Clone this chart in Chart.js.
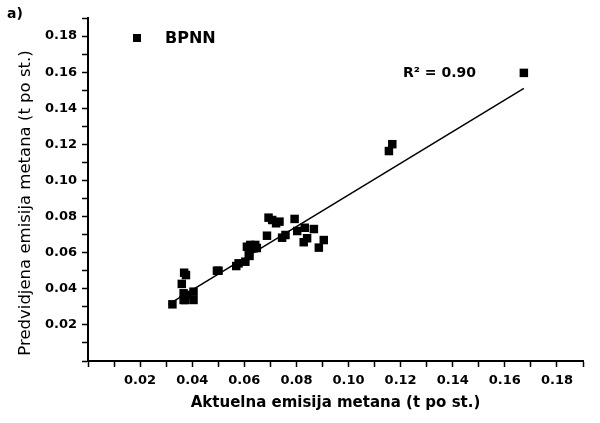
<!DOCTYPE html>
<html>
<head>
<meta charset="utf-8">
<script src="https://cdn.jsdelivr.net/npm/chart.js@4.4.1/dist/chart.umd.min.js"></script>
<style>
  body { margin: 0; background: #fff; }
</style>
</head>
<body>
<canvas id="bpnn" width="600" height="423"></canvas>
<script>
// stvarne vs predvidjene vrijednosti (t po st.)
const actual = [0.0324, 0.0369, 0.0376, 0.0360, 0.0367, 0.0380, 0.0373, 0.0405, 0.0405, 0.0367,
  0.0495, 0.0501, 0.0569, 0.0578, 0.0604, 0.0620, 0.0617, 0.0610, 0.0623, 0.0642,
  0.0636, 0.0648, 0.0687, 0.0693, 0.0707, 0.0722, 0.0735, 0.0793, 0.0745, 0.0758,
  0.0803, 0.0832, 0.0867, 0.0841, 0.0828, 0.0905, 0.0886, 0.1168, 0.1155, 0.1673];
const predicted = [0.0314, 0.0489, 0.0476, 0.0427, 0.0375, 0.0366, 0.0338, 0.0384, 0.0338, 0.0338,
  0.0500, 0.0500, 0.0526, 0.0541, 0.0550, 0.0582, 0.0600, 0.0633, 0.0643, 0.0643,
  0.0624, 0.0626, 0.0694, 0.0794, 0.0781, 0.0763, 0.0772, 0.0787, 0.0683, 0.0698,
  0.0720, 0.0738, 0.0731, 0.0680, 0.0658, 0.0670, 0.0628, 0.1201, 0.1163, 0.1596];
const fitLine = [0.877, 0.0043];   // nagib, odsjecak
const r2Label = 'R² = 0.90';
const seriesName = 'BPNN';
const yTitle = 'Predvidjena emisija metana (t po st.)';

const points = actual.map((x, i) => ({ x: x, y: predicted[i] }));
const xMin = Math.min(...actual) - 0.0015;
const xMax = Math.max(...actual);
const fit = [xMin, xMax].map(x => ({ x: x, y: fitLine[0] * x + fitLine[1] }));

const tickFont = { family: 'DejaVu Sans', weight: 'bold', size: 13 };
function everyOther(value) {
  const k = Math.round(value * 100);
  return (k > 0 && k % 2 === 0) ? (k / 100).toFixed(2) : '';
}

const extras = {
  id: 'extras',
  afterDraw(chart) {
    const ctx = chart.ctx;
    ctx.save();
    ctx.fillStyle = '#000';
    ctx.textBaseline = 'middle';
    ctx.font = 'bold 14px "DejaVu Sans"';
    ctx.fillText('a)', 7, 14);
    ctx.fillRect(133, 34, 8, 8);
    ctx.font = 'bold 16px "DejaVu Sans"';
    ctx.fillText(seriesName, 165, 39);
    ctx.font = 'bold 14px "DejaVu Sans"';
    ctx.fillText(r2Label, 403, 73);
    // naslov y osi, malo ispod sredine kao u originalu
    ctx.translate(26, 203);
    ctx.rotate(-Math.PI / 2);
    ctx.textAlign = 'center';
    ctx.font = '16.5px "DejaVu Sans"';
    ctx.fillText(yTitle, 0, 0);
    ctx.restore();
  }
};

new Chart(document.getElementById('bpnn'), {
  type: 'scatter',
  data: {
    datasets: [
      {
        label: seriesName,
        data: points,
        pointStyle: 'rect',
        pointRadius: 6,
        pointHoverRadius: 6,
        backgroundColor: '#000',
        borderColor: '#000',
        borderWidth: 0
      },
      {
        type: 'line',
        label: 'fit',
        data: fit,
        borderColor: '#000',
        borderWidth: 1.5,
        pointRadius: 0,
        fill: false
      }
    ]
  },
  options: {
    responsive: false,
    animation: false,
    layout: { padding: { top: 18, right: 17, left: 0, bottom: 0 } },
    plugins: {
      legend: { display: false },
      tooltip: { enabled: false }
    },
    scales: {
      x: {
        type: 'linear',
        min: 0,
        max: 0.19,
        border: { color: '#000', width: 2 },
        grid: { drawOnChartArea: false, tickLength: 6, color: '#000', tickWidth: 1.5 },
        ticks: {
          stepSize: 0.01,
          autoSkip: false,
          maxRotation: 0,
          color: '#000',
          font: tickFont,
          padding: 6,
          callback: everyOther
        },
        title: {
          display: true,
          text: 'Aktuelna emisija metana (t po st.)',
          color: '#000',
          font: { family: 'DejaVu Sans', weight: 'bold', size: 15 },
          padding: { top: 0, bottom: 11 }
        },
        afterFit(scale) { scale.height = 62; }
      },
      y: {
        type: 'linear',
        min: 0,
        max: 0.19,
        border: { color: '#000', width: 2 },
        grid: { drawOnChartArea: false, tickLength: 6, color: '#000', tickWidth: 1.5 },
        ticks: {
          stepSize: 0.01,
          autoSkip: false,
          color: '#000',
          font: tickFont,
          padding: 5,
          callback: everyOther
        },
        afterFit(scale) { scale.width = 88; }
      }
    }
  },
  plugins: [extras]
});
</script>
</body>
</html>
